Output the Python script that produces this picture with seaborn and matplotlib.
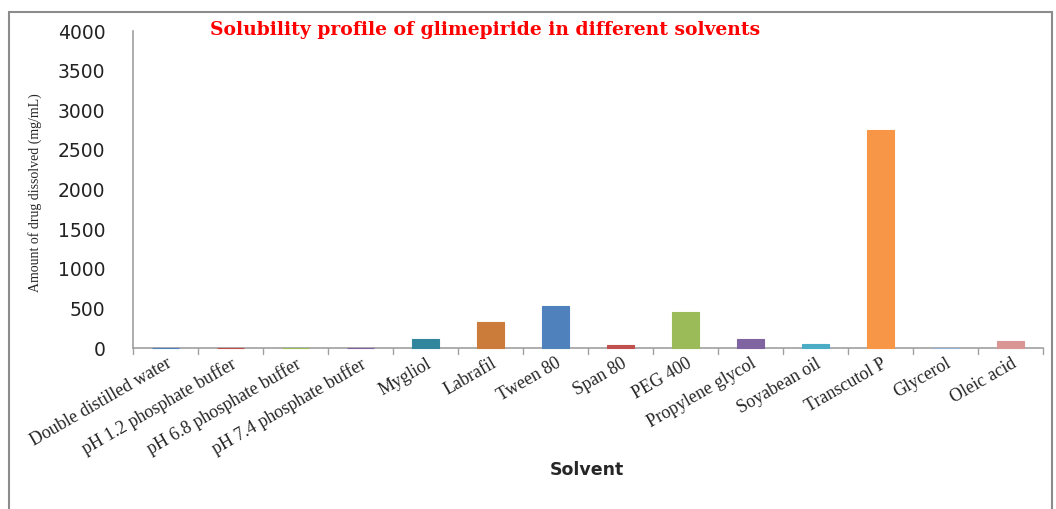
import matplotlib
matplotlib.use("Agg")
import matplotlib.pyplot as plt
import matplotlib.patches as mpatches
import seaborn as sns
import pandas as pd

solvents = [
    "Double distilled water", "pH 1.2 phosphate buffer", "pH 6.8 phosphate buffer",
    "pH 7.4 phosphate buffer", "Mygliol", "Labrafil", "Tween 80", "Span 80",
    "PEG 400", "Propylene glycol", "Soyabean oil", "Transcutol P", "Glycerol",
    "Oleic acid",
]
solubility = [3, 3, 3, 3, 110, 325, 530, 40, 462, 110, 50, 2750, 4, 88]
bar_colors = [
    "#4F81BD", "#C0504D", "#9BBB59", "#8064A2", "#31859C", "#CB7C3B", "#4F81BD",
    "#C0504D", "#9BBB59", "#8064A2", "#4BACC6", "#F79646", "#95B3D7", "#D99694",
]
y_ticks = [0, 500, 1000, 1500, 2000, 2500, 3000, 3500, 4000]

df = pd.DataFrame({"Solvent": solvents, "Solubility": solubility})

sns.set_style("white")
fig = plt.figure(figsize=(10.56, 5.09), dpi=100)
ax = fig.add_axes([0.126, 0.316, 0.862, 0.623])

sns.barplot(data=df, x="Solvent", y="Solubility", hue="Solvent",
            palette=bar_colors, legend=False, width=0.42, ax=ax,
            linewidth=0.8, saturation=1)
# outline each bar in its own colour and keep it above the baseline,
# so the near-zero bars still show as thin strips
for patch in ax.patches:
    patch.set_edgecolor(patch.get_facecolor())
    patch.set_zorder(3)
    patch.set_clip_on(False)

ax.set_ylim(0, 4000)
ax.set_xlim(-0.5, len(solvents) - 0.5)
ax.set_yticks(y_ticks)
ax.set_yticklabels([str(v) for v in y_ticks], fontsize=13.5, family="DejaVu Sans",
                   color="#222222")

ax.set_xticks(range(len(solvents)))
ax.set_xticklabels(solvents, rotation=30, ha="right", rotation_mode="anchor",
                   fontsize=13, family="Liberation Serif")
ax.tick_params(axis="x", length=0, pad=5)
# category separators on the baseline
for b in [i - 0.5 for i in range(len(solvents) + 1)]:
    ax.plot([b, b], [0, -0.018], transform=ax.get_xaxis_transform(),
            color="#a0a0a0", lw=1, clip_on=False)
ax.tick_params(axis="y", length=8, width=1, color="#a0a0a0", direction="out", pad=12)

for side in ["top", "right"]:
    ax.spines[side].set_visible(False)
for side in ["left", "bottom"]:
    ax.spines[side].set_color("#a0a0a0")
    ax.spines[side].set_linewidth(1.2)

ax.set_xlabel("Solvent", fontsize=12.5, fontweight="bold", family="DejaVu Sans")
ax.xaxis.set_label_coords(0.499, -0.355)
ax.set_ylabel("Amount of drug dissolved (mg/mL)", fontsize=10,
              family="Liberation Serif")
ax.yaxis.set_label_coords(-0.1, 0.49)

fig.text(0.459, 0.942, "Solubility profile of glimepiride in different solvents",
         color="red", fontsize=13.5, fontweight="bold", family="DejaVu Serif",
         ha="center", va="center")

fig.patches.append(mpatches.Rectangle((0.0085, -0.01), 0.988, 0.987,
                                      transform=fig.transFigure, fill=False,
                                      edgecolor="#8c8c8c", linewidth=1.5))

fig.savefig("out.png", dpi=100)
